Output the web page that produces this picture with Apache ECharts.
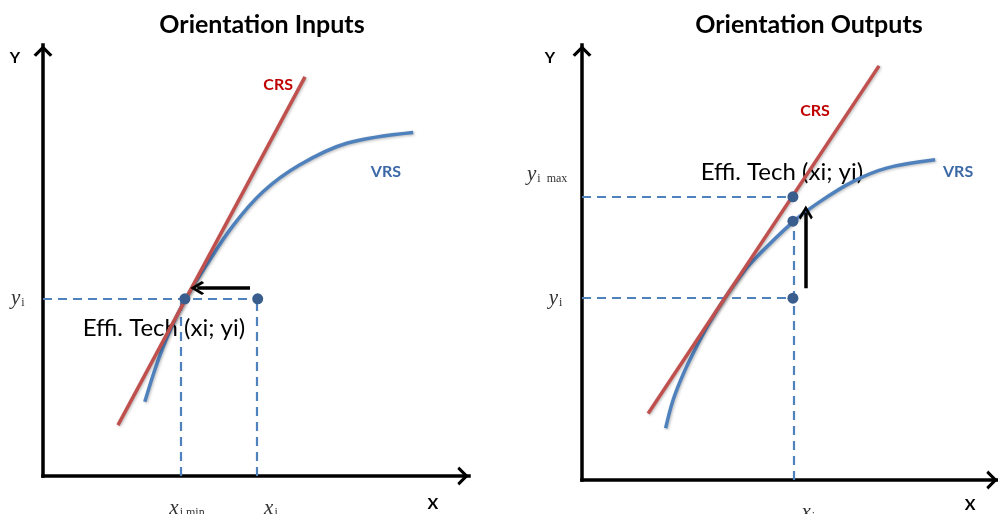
<!DOCTYPE html>
<html><head><meta charset="utf-8">
<script src="https://cdn.jsdelivr.net/npm/echarts@6/dist/echarts.min.js"></script>
<style>html,body{margin:0;padding:0;background:#fff}#c{width:998px;height:514px}</style>
</head><body><div id="c"></div>
<script>
// ---------- data (conceptual units, axes 0..10) ----------
const titles = ['Orientation Inputs', 'Orientation Outputs'];

// Left panel: input orientation
const crsInputs = [[1.76, 1.18], [6.15, 9.26]];
const vrsInputs = [[2.39, 1.72], [2.60, 2.39], [2.81, 2.97], [3.06, 3.55], [3.36, 4.13], [3.84, 4.90],
                   [4.47, 5.82], [5.17, 6.60], [6.03, 7.22], [7.13, 7.72], [8.69, 7.97]];
const pointsInputs = [[3.33, 4.11], [5.04, 4.11]];
const guidesInputs = [[[0, 4.11], [5.04, 4.11]], [[3.24, 0], [3.24, 4.11]], [[5.02, 0], [5.02, 4.11]]];
const arrowInputs = [[4.86, 4.36], [3.62, 4.36]];
const textInputs = [
  {kind: 'crs', text: 'CRS', at: [5.52, 9.07]},
  {kind: 'vrs', text: 'VRS', at: [8.05, 7.06]},
  {kind: 'note', text: 'Effi. Tech (xi; yi)', at: [0.92, 3.43]},
  {kind: 'axis', text: 'Y', at: [-0.66, 9.70]},
  {kind: 'axis', text: 'X', at: [9.15, -0.65]},
  {kind: 'mathY', text: '{m|y}{s|i}', at: [-0.42, 4.13]},
  {kind: 'mathX', text: '{m|x}{s|i min}', at: [3.38, -0.50]},
  {kind: 'mathX', text: '{m|x}{s|i}', at: [5.35, -0.50]}
];

// Right panel: output orientation
const crsOutputs = [[1.59, 1.53], [7.14, 9.52]];
const vrsOutputs = [[2.01, 1.19], [2.19, 1.84], [2.44, 2.45], [2.75, 3.06], [3.06, 3.61], [3.43, 4.18],
                    [3.74, 4.60], [4.06, 4.99], [5.08, 5.94], [5.72, 6.40], [6.51, 6.86], [7.32, 7.17], [8.49, 7.36]];
const pointsOutputs = [[5.07, 6.51], [5.07, 5.95], [5.07, 4.18]];
const guidesOutputs = [[[0, 6.51], [5.07, 6.51]], [[0, 4.18], [5.07, 4.18]], [[5.10, 0], [5.10, 5.80]]];
const arrowOutputs = [[5.38, 4.41], [5.38, 6.15]];
const textOutputs = [
  {kind: 'crs', text: 'CRS', at: [5.60, 8.48]},
  {kind: 'vrs', text: 'VRS', at: [9.04, 7.08]},
  {kind: 'note', text: 'Effi. Tech (xi; yi)', at: [2.84, 7.08]},
  {kind: 'axis', text: 'Y', at: [-0.77, 9.70]},
  {kind: 'axis', text: 'X', at: [9.33, -0.57]},
  {kind: 'mathY', text: '{m|y}{s|i  max}', at: [-0.34, 7.03]},
  {kind: 'mathY', text: '{m|y}{s|i}', at: [-0.46, 4.18]},
  {kind: 'mathX', text: '{m|x}{s|i}', at: [5.44, -0.50]}
];

// ---------- styles ----------
const RED = '#C0504D', BLUE = '#4F81BD', DOT = '#395E8E';
const chev = 'path://M10,0 L20,10 L17.4,12 L10,4.6 L2.6,12 L0,10 Z';
const sansFont = 'Lato';
const mathRich = {
  m: {fontFamily: 'Liberation Serif', fontStyle: 'italic', fontSize: 21, color: '#333'},
  s: {fontFamily: 'Liberation Serif', fontSize: 12, color: '#333', padding: [9, 0, 0, 1]}
};
const labelStyles = {
  crs: {position: 'inside', color: '#C00000', fontWeight: 'bold', fontSize: 16, fontFamily: sansFont},
  vrs: {position: 'inside', color: '#3B68A6', fontWeight: 'bold', fontSize: 16, fontFamily: sansFont},
  note: {position: 'right', distance: 0, color: '#000', fontSize: 24, fontFamily: sansFont},
  axis: {position: 'inside', color: '#000', fontWeight: 'bold', fontSize: 16, fontFamily: sansFont},
  mathY: {position: 'left', distance: 0, rich: mathRich},
  mathX: {position: 'bottom', distance: 0, rich: mathRich}
};

function axisPair(i) {
  const line = {show: true, onZero: false, symbol: ['none', chev], symbolSize: [19, 12], symbolOffset: [0, -6],
    lineStyle: {color: '#000', width: 3.5, cap: 'square'}};
  const common = {gridIndex: i, type: 'value', min: 0, max: 10, axisLine: line,
    axisTick: {show: false}, axisLabel: {show: false}, splitLine: {show: false}};
  return [Object.assign({}, common), Object.assign({}, common)];
}

const shadow = {shadowColor: 'rgba(0,0,0,0.28)', shadowBlur: 3, shadowOffsetX: 1, shadowOffsetY: 1};

function panelSeries(i, crs, vrs, pts, guides, arrow, texts) {
  const ax = {xAxisIndex: i, yAxisIndex: i};
  return [
    Object.assign({type: 'scatter', silent: true, clip: false, z: 1, symbolSize: 1,
      itemStyle: {color: 'rgba(0,0,0,0)', opacity: 1},
      data: texts.map(t => ({value: t.at,
        label: Object.assign({show: true, formatter: t.text, opacity: 1}, labelStyles[t.kind])}))}, ax),
    Object.assign({type: 'lines', coordinateSystem: 'cartesian2d', silent: true, z: 2,
      lineStyle: {color: BLUE, width: 2.2, type: [9, 6], opacity: 1},
      data: guides.map(g => ({coords: g}))}, ax),
    Object.assign({type: 'line', name: 'VRS', data: vrs, smooth: 0.35, showSymbol: false, silent: true, z: 3,
      lineStyle: Object.assign({color: BLUE, width: 3.5}, shadow)}, ax),
    Object.assign({type: 'line', name: 'CRS', data: crs, showSymbol: false, silent: true, z: 4,
      lineStyle: Object.assign({color: RED, width: 3.5}, shadow)}, ax),
    Object.assign({type: 'scatter', data: pts, symbolSize: 11, silent: true, z: 5,
      itemStyle: {color: DOT, opacity: 1}}, ax),
    Object.assign({type: 'lines', coordinateSystem: 'cartesian2d', silent: true, z: 6,
      symbol: ['none', chev], symbolSize: [19, 14],
      lineStyle: {color: '#000', width: 3.5, opacity: 1},
      data: [{coords: arrow}]}, ax)
  ];
}

const chart = echarts.init(document.getElementById('c'), null, {renderer: 'canvas'});
const xs = [], ys = [];
[0, 1].forEach(i => { const p = axisPair(i); xs.push(p[0]); ys.push(p[1]); });

chart.setOption({
  backgroundColor: '#fff',
  animation: false,
  title: [
    {text: titles[0], left: 257, top: 7, textAlign: 'center',
     textStyle: {fontFamily: sansFont, fontWeight: 'bold', fontSize: 25, color: '#000'}},
    {text: titles[1], left: 804, top: 7, textAlign: 'center',
     textStyle: {fontFamily: sansFont, fontWeight: 'bold', fontSize: 25, color: '#000'}}
  ],
  grid: [
    {left: 43, top: 45, width: 426, height: 431},
    {left: 582, top: 45, width: 416, height: 435}
  ],
  xAxis: xs,
  yAxis: ys,
  series: [].concat(
    panelSeries(0, crsInputs, vrsInputs, pointsInputs, guidesInputs, arrowInputs, textInputs),
    panelSeries(1, crsOutputs, vrsOutputs, pointsOutputs, guidesOutputs, arrowOutputs, textOutputs)
  )
});
</script></body></html>
